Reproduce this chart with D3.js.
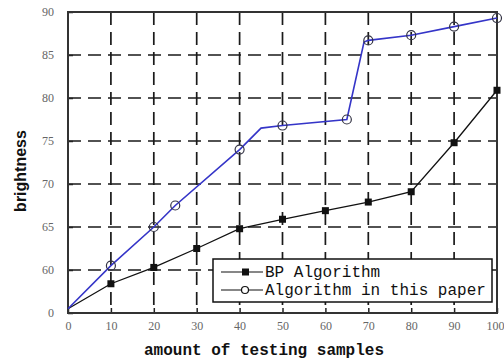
<!DOCTYPE html>
<html><head><meta charset="utf-8">
<script src="https://cdn.jsdelivr.net/npm/d3@7"></script>
<style>body{margin:0;background:#fff}svg{display:block}</style>
</head><body>
<svg id="c" width="504" height="361"></svg>
<script>
// Data (y values on a broken axis: bottom tick "0" stands at 55)
const xTicks = [0,10,20,30,40,50,60,70,80,90,100];
const yTicks = [55,60,65,70,75,80,85,90];
const yTickLabels = ["0","60","65","70","75","80","85","90"];

const bpX = [0,10,20,30,40,50,60,70,80,90,100];
const bpY = [55.5,58.4,60.3,62.5,64.8,65.9,66.9,67.9,69.1,74.8,80.9];
const bpMarker = [false,true,true,true,true,true,true,true,true,true,true];

const ourX = [0,10,20,25,40,45,50,65,69,70,80,90,100];
const ourY = [55.5,60.5,65,67.5,74,76.5,76.8,77.5,86.5,86.7,87.3,88.3,89.3];
const ourMarker = [false,true,true,true,true,false,true,true,false,true,true,true,true];

const seriesNames = ["BP Algorithm","Algorithm in this paper"];

const svg = d3.select("#c");
const L=68, R=497, T=12, B=313;
const x = d3.scaleLinear().domain([0,100]).range([L,R]);
const y = d3.scaleLinear().domain([55,90]).range([B,T]);

// grid
const g = svg.append("g");
g.selectAll(".vg").data(xTicks.slice(1,-1)).enter().append("line")
  .attr("x1",d=>x(d)).attr("x2",d=>x(d)).attr("y1",T).attr("y2",B)
  .attr("stroke","#1a1a1a").attr("stroke-width",1.7).attr("stroke-dasharray","13,7");
g.selectAll(".hg").data(yTicks.slice(1,-1)).enter().append("line")
  .attr("y1",d=>y(d)).attr("y2",d=>y(d)).attr("x1",L).attr("x2",R)
  .attr("stroke","#1a1a1a").attr("stroke-width",1.7).attr("stroke-dasharray","13,7");

// axes
const xAxis = d3.axisBottom(x).tickValues(xTicks).tickSize(-5).tickPadding(8);
const ax = svg.append("g").attr("transform",`translate(0,${B})`).call(xAxis);
const yAxis = d3.axisLeft(y).tickValues(yTicks).tickSize(-5).tickPadding(14)
  .tickFormat((d,i)=>yTickLabels[i]);
const ay = svg.append("g").attr("transform",`translate(${L},0)`).call(yAxis);
[ax,ay].forEach(a=>{
  a.select(".domain").remove();
  a.selectAll(".tick line").attr("stroke","#222").attr("stroke-width",1.5);
  a.selectAll("text").attr("font-family","Liberation Serif").attr("font-size",12).attr("fill","#666");
});
ax.selectAll(".tick text").filter(d=>d===100).attr("text-anchor","end").attr("dx",7);
// frame
svg.append("rect").attr("x",L).attr("y",T).attr("width",R-L).attr("height",B-T)
  .attr("fill","none").attr("stroke","#333").attr("stroke-width",2);

// lines
const line = d3.line().x(d=>x(d[0])).y(d=>y(d[1]));
const bp = bpX.map((v,i)=>[v,bpY[i],bpMarker[i]]);
const our = ourX.map((v,i)=>[v,ourY[i],ourMarker[i]]);
svg.append("path").datum(bp).attr("d",line).attr("fill","none").attr("stroke","#111").attr("stroke-width",1.3);
svg.append("path").datum(our).attr("d",line).attr("fill","none").attr("stroke","#3535c8").attr("stroke-width",1.6);
svg.selectAll(".bm").data(bp.filter(d=>d[2])).enter().append("rect")
  .attr("x",d=>x(d[0])-3.5).attr("y",d=>y(d[1])-3.5).attr("width",7).attr("height",7).attr("fill","#111");
svg.selectAll(".om").data(our.filter(d=>d[2])).enter().append("circle")
  .attr("cx",d=>x(d[0])).attr("cy",d=>y(d[1])).attr("r",4.5)
  .attr("fill","none").attr("stroke","#334").attr("stroke-width",1.2);

// legend
const lg = svg.append("g");
lg.append("rect").attr("x",213).attr("y",259).attr("width",279).attr("height",43)
  .attr("fill","#fff").attr("stroke","#111").attr("stroke-width",1.5);
const ly = [272,290];
seriesNames.forEach((n,i)=>{
  lg.append("line").attr("x1",221).attr("x2",263).attr("y1",ly[i]).attr("y2",ly[i]).attr("stroke","#111").attr("stroke-width",1.2);
  if(i===0) lg.append("rect").attr("x",242).attr("y",ly[i]-3.5).attr("width",7).attr("height",7).attr("fill","#111");
  else lg.append("circle").attr("cx",245).attr("cy",ly[i]).attr("r",3.5).attr("fill","#fff").attr("stroke","#111").attr("stroke-width",1.2);
  lg.append("text").attr("x",265).attr("y",ly[i]+5).text(n)
    .attr("font-family","Liberation Mono").attr("font-size",16).attr("fill","#111");
});

// axis titles
svg.append("text").attr("x",264).attr("y",355).attr("text-anchor","middle")
  .attr("font-family","Liberation Mono").attr("font-weight","bold").attr("font-size",16).attr("fill","#111")
  .text("amount of testing samples");
svg.append("text").attr("transform","translate(26,171) rotate(-90)").attr("text-anchor","middle")
  .attr("font-family","Liberation Sans").attr("font-weight","bold").attr("font-size",16).attr("fill","#111")
  .text("brightness");
</script>
</body></html>
